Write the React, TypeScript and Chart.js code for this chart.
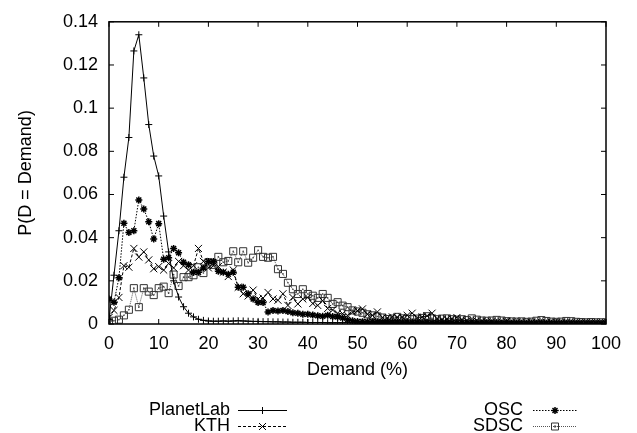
import React, { useEffect, useRef } from 'react';
import { Chart, registerables } from 'chart.js';

Chart.register(...registerables);

// Demand (%) categories 0..100
const DEMAND: number[] = Array.from({ length: 101 }, (_, i) => i);

const X_TICKS = [0, 10, 20, 30, 40, 50, 60, 70, 80, 90, 100];
const Y_TICKS = [0, 0.02, 0.04, 0.06, 0.08, 0.1, 0.12, 0.14];

const PLANETLAB: number[] = [
  0.002, 0.0226, 0.0432, 0.068, 0.0864, 0.1265, 0.134, 0.114, 0.0924, 0.0778,
  0.0686, 0.05, 0.0334, 0.02, 0.0125, 0.008, 0.005, 0.0033, 0.0022, 0.0017,
  0.0014, 0.0013, 0.0013, 0.0014, 0.0013, 0.0014, 0.0015, 0.0014, 0.0013, 0.0012,
  0.0012, 0.0011, 0.0011, 0.001, 0.001, 0.0009, 0.0009, 0.0008, 0.0008, 0.0008,
  0.0007, 0.0007, 0.0007, 0.0007, 0.0006, 0.0006, 0.0006, 0.0006, 0.0006, 0.0005,
  0.0005, 0.0005, 0.0005, 0.0005, 0.0005, 0.0005, 0.0005, 0.0005, 0.0005, 0.0005,
  0.0005, 0.0004, 0.0005, 0.0004, 0.0004, 0.0004, 0.0004, 0.0004, 0.0004, 0.0004,
  0.0004, 0.0004, 0.0004, 0.0004, 0.0004, 0.0003, 0.0004, 0.0003, 0.0003, 0.0003,
  0.0003, 0.0003, 0.0003, 0.0003, 0.0003, 0.0003, 0.0003, 0.0003, 0.0003, 0.0003,
  0.0003, 0.0003, 0.0003, 0.0003, 0.0003, 0.0003, 0.0003, 0.0003, 0.0003, 0.0003,
  0.0003,
];

const KTH: number[] = [
  0.003, 0.0063, 0.0123, 0.027, 0.0263, 0.035, 0.031, 0.0334, 0.0297, 0.0256,
  0.0266, 0.025, 0.028, 0.026, 0.029, 0.027, 0.025, 0.027, 0.035, 0.029,
  0.026, 0.027, 0.0266, 0.024, 0.022, 0.025, 0.017, 0.014, 0.013, 0.0157,
  0.0116, 0.012, 0.0146, 0.0116, 0.011, 0.014, 0.0086, 0.0123, 0.0093, 0.0116,
  0.0123, 0.0095, 0.0086, 0.0108, 0.0072, 0.0065, 0.005, 0.0048, 0.004, 0.0055,
  0.0062, 0.007, 0.0045, 0.004, 0.0056, 0.003, 0.0028, 0.0033, 0.003, 0.0032,
  0.004, 0.005, 0.003, 0.0033, 0.0038, 0.005, 0.0025, 0.002, 0.0022, 0.0025,
  0.003, 0.002, 0.0015, 0.0013, 0.0015, 0.0012, 0.001, 0.0011, 0.0009, 0.001,
  0.0012, 0.0009, 0.0008, 0.0009, 0.0008, 0.0007, 0.0009, 0.0008, 0.0007, 0.0008,
  0.0007, 0.0006, 0.0007, 0.0006, 0.0006, 0.0005, 0.0006, 0.0005, 0.0005, 0.0004,
  0.0004,
];

const OSC: number[] = [
  0.0116, 0.0101, 0.0214, 0.0467, 0.0424, 0.0432, 0.0575, 0.0533, 0.0474, 0.0394,
  0.0465, 0.03, 0.0307, 0.035, 0.033, 0.0286, 0.0274, 0.024, 0.024, 0.026,
  0.029, 0.029, 0.0244, 0.024, 0.023, 0.024, 0.017, 0.017, 0.014, 0.0116,
  0.01, 0.01, 0.0056, 0.0063, 0.006, 0.0063, 0.0058, 0.0052, 0.005, 0.0045,
  0.0045, 0.0042, 0.0038, 0.0036, 0.004, 0.0035, 0.0033, 0.0028, 0.002, 0.0015,
  0.0012, 0.0011, 0.001, 0.0011, 0.001, 0.0009, 0.001, 0.0009, 0.0009, 0.0008,
  0.0009, 0.0008, 0.0008, 0.0007, 0.0008, 0.0007, 0.0007, 0.0006, 0.0007, 0.0006,
  0.0006, 0.0006, 0.0005, 0.0006, 0.0005, 0.0005, 0.0006, 0.0005, 0.0005, 0.0004,
  0.0005, 0.0004, 0.0005, 0.0004, 0.0004, 0.0005, 0.0004, 0.0004, 0.0004, 0.0003,
  0.0004, 0.0003, 0.0004, 0.0003, 0.0003, 0.0004, 0.0003, 0.0003, 0.0003, 0.0003,
  0.0003,
];

const SDSC: number[] = [
  0.001, 0.0015, 0.002, 0.004, 0.0066, 0.0166, 0.0078, 0.0166, 0.015, 0.0134,
  0.0166, 0.0173, 0.0143, 0.0229, 0.0176, 0.0217, 0.0217, 0.0226, 0.0263, 0.0236,
  0.0286, 0.0274, 0.0311, 0.0286, 0.0292, 0.0337, 0.0286, 0.0337, 0.0284, 0.0307,
  0.0342, 0.0311, 0.0307, 0.0311, 0.0254, 0.0232, 0.0191, 0.0161, 0.0139, 0.0161,
  0.0139, 0.0131, 0.0121, 0.0139, 0.0121, 0.0093, 0.0101, 0.0085, 0.0078, 0.0063,
  0.0058, 0.0052, 0.0045, 0.004, 0.0035, 0.003, 0.0023, 0.0025, 0.0033, 0.0026,
  0.0024, 0.0022, 0.0025, 0.0028, 0.0036, 0.0026, 0.0022, 0.0025, 0.0026, 0.0022,
  0.002, 0.0022, 0.0018, 0.0026, 0.002, 0.0016, 0.0015, 0.0016, 0.0019, 0.0016,
  0.0013, 0.0012, 0.0011, 0.0012, 0.001, 0.0011, 0.0015, 0.0018, 0.0014, 0.0011,
  0.001, 0.0011, 0.0014, 0.0013, 0.001, 0.0009, 0.0008, 0.0009, 0.0008, 0.0008,
  0.0007,
];

const SERIES_NAMES = ['PlanetLab', 'KTH', 'OSC', 'SDSC'];

const FONT_FAMILY = '"Liberation Sans", Arial, Helvetica, sans-serif';

const toPoints = (vals: number[]) => vals.map((v, i) => ({ x: DEMAND[i], y: v }));

type Marker = 'cross' | 'crossRot' | 'star' | 'rect';

function drawMarker(ctx: CanvasRenderingContext2D, kind: Marker, x: number, y: number) {
  ctx.save();
  ctx.setLineDash([]);
  ctx.beginPath();
  if (kind === 'cross') {
    ctx.lineWidth = 1;
    ctx.moveTo(x - 3.5, y); ctx.lineTo(x + 3.5, y);
    ctx.moveTo(x, y - 3.5); ctx.lineTo(x, y + 3.5);
  } else if (kind === 'crossRot') {
    ctx.lineWidth = 1;
    ctx.moveTo(x - 3.5, y - 3.5); ctx.lineTo(x + 3.5, y + 3.5);
    ctx.moveTo(x - 3.5, y + 3.5); ctx.lineTo(x + 3.5, y - 3.5);
  } else if (kind === 'star') {
    ctx.lineWidth = 1.5;
    ctx.moveTo(x - 3.5, y); ctx.lineTo(x + 3.5, y);
    ctx.moveTo(x, y - 3.5); ctx.lineTo(x, y + 3.5);
    ctx.moveTo(x - 2.5, y - 2.5); ctx.lineTo(x + 2.5, y + 2.5);
    ctx.moveTo(x - 2.5, y + 2.5); ctx.lineTo(x + 2.5, y - 2.5);
  } else {
    ctx.lineWidth = 1;
    ctx.strokeStyle = '#333';
    ctx.rect(x - 3.5, y - 3.5, 7, 7);
    ctx.moveTo(x + 0.8, y);
    ctx.arc(x, y, 0.8, 0, Math.PI * 2);
  }
  ctx.stroke();
  ctx.restore();
}

const framePlugin = {
  id: 'gnuplotFrame',
  afterDatasetsDraw(chart: any) {
    const { ctx, chartArea, scales } = chart;
    const { left, right, top, bottom } = chartArea;
    const xs = scales.x;
    const ys = scales.y;
    ctx.save();
    ctx.strokeStyle = '#000';
    ctx.lineWidth = 1.5;
    ctx.setLineDash([]);
    ctx.strokeRect(left, top, right - left, bottom - top);
    ctx.lineWidth = 1;
    ctx.beginPath();
    X_TICKS.forEach((t) => {
      const px = xs.getPixelForValue(t);
      ctx.moveTo(px, bottom); ctx.lineTo(px, bottom - 5);
      ctx.moveTo(px, top); ctx.lineTo(px, top + 5);
    });
    Y_TICKS.forEach((t) => {
      const py = ys.getPixelForValue(t);
      ctx.moveTo(left, py); ctx.lineTo(left + 5, py);
      ctx.moveTo(right, py); ctx.lineTo(right - 5, py);
    });
    ctx.stroke();
    ctx.restore();
  },
  afterDraw(chart: any) {
    const ctx: CanvasRenderingContext2D = chart.ctx;
    const items: { name: string; textRight: number; x0: number; x1: number; y: number; dash: number[]; color: string; marker: Marker }[] = [
      { name: SERIES_NAMES[0], textRight: 230, x0: 238, x1: 287, y: 410, dash: [], color: '#000', marker: 'cross' },
      { name: SERIES_NAMES[1], textRight: 230, x0: 238, x1: 287, y: 426, dash: [3, 2], color: '#000', marker: 'crossRot' },
      { name: SERIES_NAMES[2], textRight: 523, x0: 533, x1: 577, y: 410, dash: [1.5, 1.5], color: '#000', marker: 'star' },
      { name: SERIES_NAMES[3], textRight: 523, x0: 533, x1: 577, y: 426, dash: [1, 1], color: '#555', marker: 'rect' },
    ];
    ctx.save();
    ctx.font = `18px ${FONT_FAMILY}`;
    ctx.fillStyle = '#000';
    ctx.textAlign = 'right';
    ctx.textBaseline = 'middle';
    items.forEach((it) => {
      ctx.fillText(it.name, it.textRight, it.y);
      ctx.beginPath();
      ctx.strokeStyle = it.color;
      ctx.lineWidth = 1;
      ctx.setLineDash(it.dash);
      ctx.moveTo(it.x0, it.y + 0.5);
      ctx.lineTo(it.x1, it.y + 0.5);
      ctx.stroke();
      ctx.strokeStyle = '#000';
      drawMarker(ctx, it.marker, (it.x0 + it.x1) / 2, it.y + 0.5);
    });
    ctx.restore();
  },
};

export default function App() {
  const ref = useRef<HTMLCanvasElement | null>(null);

  useEffect(() => {
    if (!ref.current) return;
    const chart = new Chart(ref.current, {
      type: 'line',
      data: {
        datasets: [
          {
            label: SERIES_NAMES[0],
            data: toPoints(PLANETLAB),
            borderColor: '#000',
            borderWidth: 1,
            pointStyle: 'cross',
            pointRadius: 3.5,
            pointBorderWidth: 1,
            pointBorderColor: '#000',
            tension: 0,
          },
          {
            label: SERIES_NAMES[1],
            data: toPoints(KTH),
            borderColor: '#000',
            borderWidth: 1,
            borderDash: [3, 2],
            pointStyle: 'crossRot',
            pointRadius: 5,
            pointBorderWidth: 1,
            pointBorderColor: '#000',
            tension: 0,
          },
          {
            label: SERIES_NAMES[2],
            data: toPoints(OSC),
            borderColor: '#000',
            borderWidth: 1,
            borderDash: [1.5, 1.5],
            pointStyle: 'star',
            pointRadius: 3.5,
            pointBorderWidth: 1.5,
            pointBorderColor: '#000',
            tension: 0,
          },
          {
            label: SERIES_NAMES[3],
            data: toPoints(SDSC),
            borderColor: '#555',
            borderWidth: 1,
            borderDash: [1, 1],
            pointStyle: 'rect',
            pointRadius: 5,
            pointBorderWidth: 1,
            pointBorderColor: '#333',
            pointBackgroundColor: 'rgba(0,0,0,0)',
            tension: 0,
          },
          {
            label: SERIES_NAMES[3] + ' dot',
            data: toPoints(SDSC),
            showLine: false,
            pointStyle: 'circle',
            pointRadius: 0.8,
            pointBorderWidth: 0,
            pointBackgroundColor: '#333',
            borderColor: '#333',
          },
        ],
      },
      options: {
        animation: false,
        responsive: true,
        maintainAspectRatio: false,
        layout: { padding: { left: 0, top: 14, right: 31, bottom: 52 } },
        plugins: { legend: { display: false }, tooltip: { enabled: false } },
        elements: { line: { fill: false } },
        scales: {
          x: {
            type: 'linear',
            min: 0,
            max: 100,
            afterFit: (s: any) => { s.height = 57; },
            afterBuildTicks: (s: any) => { s.ticks = X_TICKS.map((v) => ({ value: v })); },
            grid: { display: false, drawTicks: false },
            border: { display: false },
            ticks: {
              color: '#000',
              padding: 9,
              maxRotation: 0,
              font: { family: FONT_FAMILY, size: 18 },
            },
            title: {
              display: true,
              text: 'Demand (%)',
              color: '#000',
              padding: { top: 0, bottom: 0 },
              font: { family: FONT_FAMILY, size: 18 },
            },
          },
          y: {
            type: 'linear',
            min: 0,
            max: 0.14,
            afterFit: (s: any) => { s.width = 109; },
            afterBuildTicks: (s: any) => { s.ticks = Y_TICKS.map((v) => ({ value: v })); },
            grid: { display: false, drawTicks: false },
            border: { display: false },
            ticks: {
              color: '#000',
              padding: 11,
              font: { family: FONT_FAMILY, size: 18 },
              callback: (v: any) => String(Math.round(Number(v) * 100) / 100),
            },
            title: {
              display: true,
              text: 'P(D = Demand)',
              color: '#000',
              padding: { top: 15, bottom: 0 },
              font: { family: FONT_FAMILY, size: 18 },
            },
          },
        },
      },
      plugins: [framePlugin],
    });
    return () => chart.destroy();
  }, []);

  return (
    <div style={{ position: 'fixed', left: 0, top: 0, width: 637, height: 433, background: '#fff' }}>
      <canvas ref={ref} />
    </div>
  );
}
